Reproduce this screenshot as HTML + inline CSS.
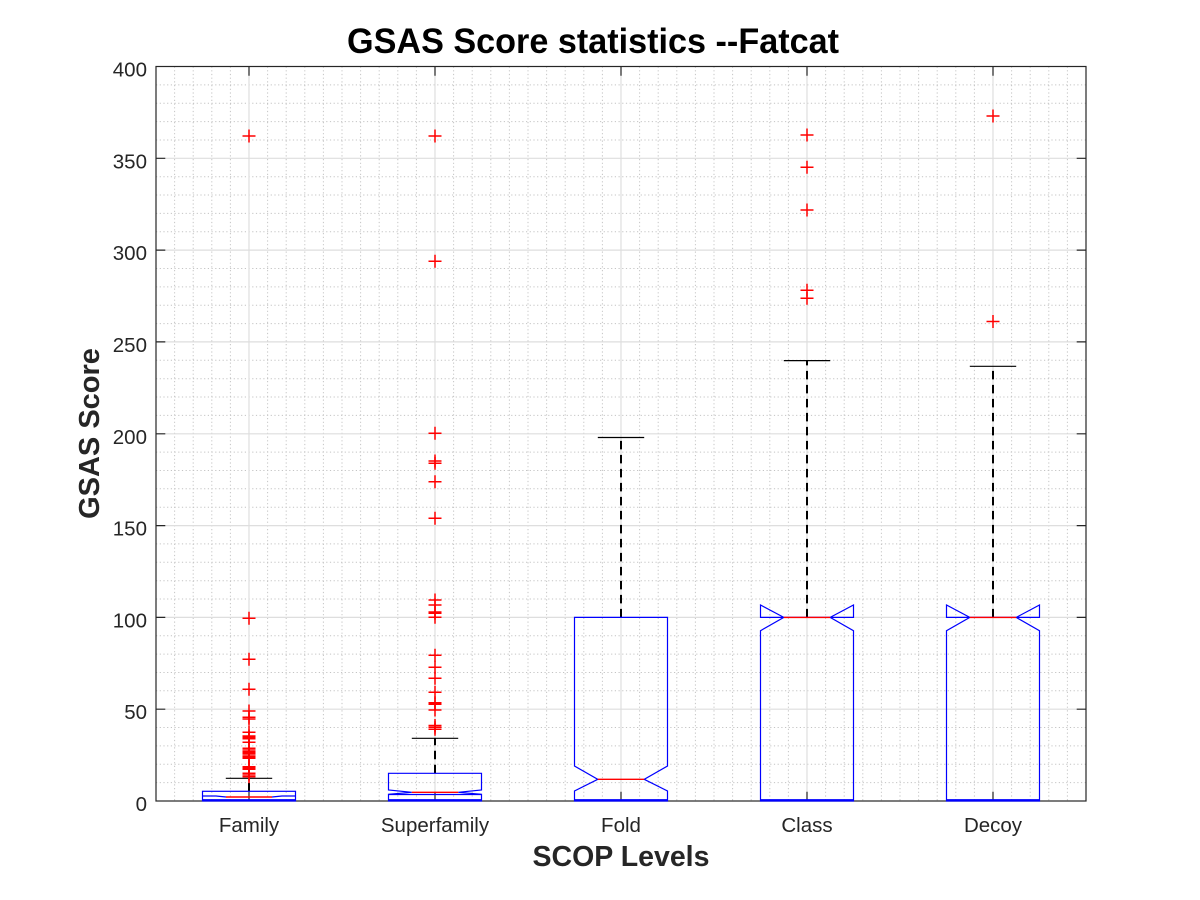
<!DOCTYPE html>
<html><head><meta charset="utf-8"><style>
html,body{margin:0;padding:0;background:#fff;}
svg{display:block;}
text{font-family:"Liberation Sans",Arial,sans-serif;}
</style></head><body>
<svg width="1200" height="900" viewBox="0 0 1200 900" xmlns="http://www.w3.org/2000/svg">
<defs><path id="c" d="M-6.5 0H6.5M0 -6.5V6.5" stroke="#ff0000" stroke-width="1.5" fill="none"/></defs>
<rect x="0" y="0" width="1200" height="900" fill="#fff"/>
<g stroke="#c4c4c4" stroke-width="1" stroke-dasharray="1.2 2.5" fill="none">
<path d="M156 782.6H1086M156 764.3H1086M156 745.9H1086M156 727.5H1086M156 690.8H1086M156 672.5H1086M156 654.1H1086M156 635.7H1086M156 599H1086M156 580.7H1086M156 562.3H1086M156 543.9H1086M156 507.2H1086M156 488.8H1086M156 470.5H1086M156 452.1H1086M156 415.4H1086M156 397H1086M156 378.7H1086M156 360.3H1086M156 323.6H1086M156 305.2H1086M156 286.9H1086M156 268.5H1086M156 231.8H1086M156 213.4H1086M156 195H1086M156 176.7H1086M156 140H1086M156 121.6H1086M156 103.2H1086M156 84.9H1086"/>
<path d="M174.6 66.5V801M193.2 66.5V801M211.8 66.5V801M230.4 66.5V801M267.6 66.5V801M286.2 66.5V801M304.8 66.5V801M323.4 66.5V801M342 66.5V801M360.6 66.5V801M379.2 66.5V801M397.8 66.5V801M416.4 66.5V801M453.6 66.5V801M472.2 66.5V801M490.8 66.5V801M509.4 66.5V801M528 66.5V801M546.6 66.5V801M565.2 66.5V801M583.8 66.5V801M602.4 66.5V801M639.6 66.5V801M658.2 66.5V801M676.8 66.5V801M695.4 66.5V801M714 66.5V801M732.6 66.5V801M751.2 66.5V801M769.8 66.5V801M788.4 66.5V801M825.6 66.5V801M844.2 66.5V801M862.8 66.5V801M881.4 66.5V801M900 66.5V801M918.6 66.5V801M937.2 66.5V801M955.8 66.5V801M974.4 66.5V801M1011.6 66.5V801M1030.2 66.5V801M1048.8 66.5V801M1067.4 66.5V801"/>
</g>
<g stroke="#dedede" stroke-width="1.2" fill="none">
<path d="M156 709.2H1086M156 617.4H1086M156 525.6H1086M156 433.8H1086M156 341.9H1086M156 250.1H1086M156 158.3H1086"/>
<path d="M249 66.5V801M435 66.5V801M621 66.5V801M807 66.5V801M993 66.5V801"/>
</g>
<g stroke="#262626" stroke-width="1.2" fill="none">
<rect x="156" y="66.5" width="930" height="734.5"/>
<path d="M156 709.2h9.3M156 617.4h9.3M156 525.6h9.3M156 433.8h9.3M156 341.9h9.3M156 250.1h9.3M156 158.3h9.3"/>
<path d="M1086 709.2h-9.3M1086 617.4h-9.3M1086 525.6h-9.3M1086 433.8h-9.3M1086 341.9h-9.3M1086 250.1h-9.3M1086 158.3h-9.3"/>
<path d="M249 66.5v9.3M435 66.5v9.3M621 66.5v9.3M807 66.5v9.3M993 66.5v9.3"/>
<path d="M249 801v-9.3M435 801v-9.3M621 801v-9.3M807 801v-9.3M993 801v-9.3"/>
</g>
<g stroke="#000" stroke-width="2" stroke-dasharray="8.5 5.5" fill="none">
<path d="M249 791.3V778.3"/>
<path d="M435 773.3V738.3"/>
<path d="M621 617.4V437.5"/>
<path d="M807 617.4V360.6"/>
<path d="M993 617.4V366.3"/>
</g>
<g stroke="#000" stroke-width="1.2" fill="none">
<path d="M225.8 778.3H272.2M411.8 738.3H458.2M597.8 437.5H644.2M783.8 360.6H830.2M969.8 366.3H1016.2"/>
</g>
<g stroke="#0000ff" stroke-width="1.2" fill="none">
<rect x="202.5" y="791.3" width="93" height="9.7"/>
<path d="M202.5 796H216L226 797M295.5 796H282L272 797"/>
<path d="M388.5 801V794.3L411.8 792.3L388.5 790V773.3H481.5V790L458.2 792.3L481.5 794.3V801Z"/>
<path d="M388.5 794.5H481.5"/>
<path d="M574.5 801V791L597.8 779.3L574.5 766V617.4H667.5V766L644.2 779.3L667.5 791V801Z"/>
<path d="M760.5 801V630.7L783.8 617.4L760.5 605V617.4H853.5V605L830.2 617.4L853.5 630.7V801Z"/>
<path d="M946.5 801V630.7L969.8 617.4L946.5 605V617.4H1039.5V605L1016.2 617.4L1039.5 630.7V801Z"/>
</g>
<g stroke="#0000ff" stroke-width="2.2" fill="none">
<path d="M202.5 800.2H295.5M388.5 800.2H481.5M574.5 800.2H667.5M760.5 800.2H853.5M946.5 800.2H1039.5"/>
</g>
<g stroke="#ff0000" stroke-width="1.4" fill="none">
<path d="M226 797H272M411.8 792.3H458.2M597.8 779.3H644.2M783.8 617.4H830.2M969.8 617.4H1016.2"/>
</g>
<g>
<use href="#c" x="249" y="136"/>
<use href="#c" x="249" y="618.3"/>
<use href="#c" x="249" y="659.3"/>
<use href="#c" x="249" y="689.3"/>
<use href="#c" x="249" y="711"/>
<use href="#c" x="249" y="717.3"/>
<use href="#c" x="249" y="719"/>
<use href="#c" x="249" y="732.3"/>
<use href="#c" x="249" y="736"/>
<use href="#c" x="249" y="737.3"/>
<use href="#c" x="249" y="738.7"/>
<use href="#c" x="249" y="742.3"/>
<use href="#c" x="249" y="748.3"/>
<use href="#c" x="249" y="750"/>
<use href="#c" x="249" y="751.7"/>
<use href="#c" x="249" y="753.3"/>
<use href="#c" x="249" y="755"/>
<use href="#c" x="249" y="756.7"/>
<use href="#c" x="249" y="758.3"/>
<use href="#c" x="249" y="766.7"/>
<use href="#c" x="249" y="768"/>
<use href="#c" x="249" y="769.3"/>
<use href="#c" x="249" y="773.3"/>
<use href="#c" x="249" y="775"/>
<use href="#c" x="249" y="776.7"/>
<use href="#c" x="435" y="136"/>
<use href="#c" x="435" y="261.3"/>
<use href="#c" x="435" y="433.3"/>
<use href="#c" x="435" y="461"/>
<use href="#c" x="435" y="463.3"/>
<use href="#c" x="435" y="481.7"/>
<use href="#c" x="435" y="518.3"/>
<use href="#c" x="435" y="600"/>
<use href="#c" x="435" y="605"/>
<use href="#c" x="435" y="612"/>
<use href="#c" x="435" y="613.3"/>
<use href="#c" x="435" y="617.3"/>
<use href="#c" x="435" y="655.3"/>
<use href="#c" x="435" y="667.3"/>
<use href="#c" x="435" y="678.3"/>
<use href="#c" x="435" y="692.3"/>
<use href="#c" x="435" y="702.7"/>
<use href="#c" x="435" y="704.3"/>
<use href="#c" x="435" y="710"/>
<use href="#c" x="435" y="725.5"/>
<use href="#c" x="435" y="727.3"/>
<use href="#c" x="435" y="729.3"/>
<use href="#c" x="807" y="135"/>
<use href="#c" x="807" y="167.3"/>
<use href="#c" x="807" y="210"/>
<use href="#c" x="807" y="290.3"/>
<use href="#c" x="807" y="298.3"/>
<use href="#c" x="993" y="116"/>
<use href="#c" x="993" y="321.5"/>
</g>
<g fill="#262626" font-size="20.5" text-anchor="end">
<text x="147" y="811">0</text>
<text x="147" y="719.2">50</text>
<text x="147" y="627.4">100</text>
<text x="147" y="535.6">150</text>
<text x="147" y="443.8">200</text>
<text x="147" y="351.9">250</text>
<text x="147" y="260.1">300</text>
<text x="147" y="168.3">350</text>
<text x="147" y="76.5">400</text>
</g>
<g fill="#262626" font-size="20.5" text-anchor="middle">
<text x="249" y="832">Family</text>
<text x="435" y="832">Superfamily</text>
<text x="621" y="832">Fold</text>
<text x="807" y="832">Class</text>
<text x="993" y="832">Decoy</text>
</g>
<text x="621" y="866" fill="#262626" font-size="28.5" font-weight="bold" text-anchor="middle">SCOP Levels</text>
<text transform="translate(99,433.5) rotate(-90)" fill="#262626" font-size="29" font-weight="bold" text-anchor="middle">GSAS Score</text>
<text x="347" y="53" fill="#000" font-size="35" font-weight="bold" textLength="492" lengthAdjust="spacingAndGlyphs">GSAS Score statistics --Fatcat</text>
</svg>
</body></html>
